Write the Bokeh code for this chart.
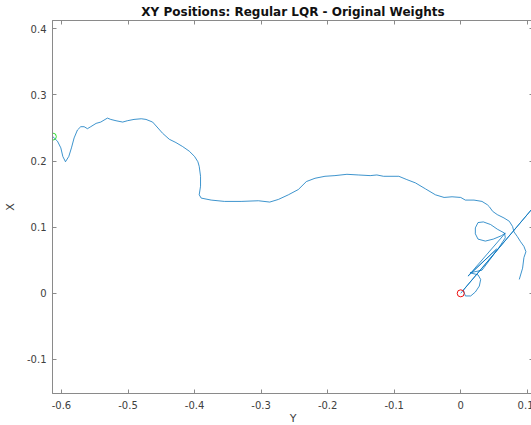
from bokeh.plotting import figure
from bokeh.models import FixedTicker, LinearAxis, Range1d, CustomLabelingPolicy
from bokeh.embed import file_html
from bokeh.resources import INLINE

title_text = "XY Positions: Regular LQR - Original Weights"
x_axis_label = "Y"
y_axis_label = "X"

xticks = [-0.6, -0.5, -0.4, -0.3, -0.2, -0.1, 0.0, 0.1]
xtick_labels = ["-0.6", "-0.5", "-0.4", "-0.3", "-0.2", "-0.1", "0", "0.1"]
yticks = [-0.1, 0.0, 0.1, 0.2, 0.3, 0.4]
ytick_labels = ["-0.1", "0", "0.1", "0.2", "0.3", "0.4"]

# main trajectory (horizontal = Y position, vertical = X position)
path_y = [-0.613, -0.606, -0.601, -0.598, -0.594, -0.589, -0.585, -0.581, -0.576, -0.571,
          -0.566, -0.561, -0.556, -0.548, -0.541, -0.531, -0.526, -0.518, -0.508, -0.501,
          -0.491, -0.480, -0.473, -0.463, -0.455, -0.448, -0.438, -0.428, -0.418, -0.408,
          -0.400, -0.395, -0.393, -0.391, -0.391, -0.393, -0.390, -0.375, -0.355, -0.330,
          -0.304, -0.287, -0.274, -0.259, -0.244, -0.232, -0.219, -0.204, -0.189, -0.171,
          -0.154, -0.136, -0.126, -0.116, -0.093, -0.081, -0.068, -0.053, -0.038, -0.025,
          -0.013, 0.000, 0.007, 0.020, 0.032, 0.040, 0.043, 0.048, 0.055, 0.065,
          0.073, 0.078, 0.080, 0.085, 0.090, 0.095, 0.098, 0.095, 0.093, 0.088]
path_x = [0.237, 0.230, 0.220, 0.207, 0.199, 0.207, 0.220, 0.235, 0.247, 0.252,
          0.252, 0.249, 0.252, 0.257, 0.259, 0.265, 0.263, 0.261, 0.259, 0.261,
          0.263, 0.264, 0.263, 0.259, 0.250, 0.242, 0.233, 0.228, 0.222, 0.215,
          0.207, 0.199, 0.192, 0.177, 0.162, 0.149, 0.144, 0.141, 0.139, 0.139,
          0.140, 0.138, 0.142, 0.149, 0.157, 0.169, 0.174, 0.177, 0.178, 0.180,
          0.179, 0.178, 0.179, 0.177, 0.177, 0.172, 0.167, 0.158, 0.149, 0.145,
          0.146, 0.145, 0.141, 0.141, 0.139, 0.134, 0.131, 0.124, 0.119, 0.114,
          0.109, 0.101, 0.093, 0.086, 0.078, 0.071, 0.063, 0.054, 0.038, 0.021]

# noisy segment near the origin
cluster_y = [0.000, 0.200, 0.004, 0.007, 0.015, 0.022, 0.028, 0.030, 0.026, 0.014,
             0.032, 0.058, 0.067, 0.066, 0.055, 0.045, 0.034, 0.026, 0.022, 0.022,
             0.026, 0.037, 0.049, 0.061, 0.067, 0.011, 0.054, 0.017]
cluster_x = [0.000, 0.238, 0.005, -0.004, -0.004, 0.002, 0.011, 0.021, 0.028, 0.031,
             0.035, 0.070, 0.084, 0.091, 0.097, 0.104, 0.108, 0.107, 0.099, 0.090,
             0.082, 0.079, 0.082, 0.087, 0.091, 0.026, 0.067, 0.032]

start_y = [-0.613]
start_x = [0.237]
end_y = [0.0]
end_x = [0.0]

AX = "#8a8a8a"
TXT = "#404040"
FONT = "DejaVu Sans"

p = figure(width=533, height=427, output_backend="svg", toolbar_location=None,
           x_range=Range1d(-0.6135, 0.1094), y_range=Range1d(-0.1515, 0.4126),
           min_border_left=44, min_border_right=0, min_border_top=0, min_border_bottom=0,
           x_axis_label=x_axis_label, y_axis_label=y_axis_label)

p.title.text = title_text
p.title.align = "center"
p.title.text_font = FONT
p.title.text_font_size = "12px"
p.title.text_font_style = "bold"
p.title.text_color = "#111111"
p.title.standoff = 4
p.title.offset = 0

p.xgrid.visible = False
p.ygrid.visible = False
p.outline_line_color = AX
p.background_fill_color = "white"
p.border_fill_color = "white"

for ax, ticks, labels in ((p.xaxis[0], xticks, xtick_labels), (p.yaxis[0], yticks, ytick_labels)):
    ax.ticker = FixedTicker(ticks=ticks)
    ax.major_label_overrides = dict(zip(ticks, labels))
    ax.axis_line_color = AX
    ax.major_tick_line_color = AX
    ax.major_tick_in = 4
    ax.major_tick_out = 0
    ax.minor_tick_in = 0
    ax.minor_tick_out = 0
    ax.major_label_text_font = FONT
    ax.major_label_text_font_size = "10px"
    ax.major_label_text_color = TXT
    ax.axis_label_text_font = FONT
    ax.axis_label_text_font_size = "11px"
    ax.axis_label_text_font_style = "normal"
    ax.axis_label_text_color = TXT

p.xaxis[0].major_label_standoff = 7
p.xaxis[0].axis_label_standoff = 0
p.yaxis[0].major_label_standoff = 6
p.yaxis[0].axis_label_standoff = 7

top_axis = LinearAxis(ticker=FixedTicker(ticks=xticks),
                      major_label_policy=CustomLabelingPolicy(code="return []"))
right_axis = LinearAxis(ticker=FixedTicker(ticks=yticks),
                        major_label_policy=CustomLabelingPolicy(code="return []"))
for a, loc in ((top_axis, "above"), (right_axis, "right")):
    a.major_label_text_font_size = "0px"
    a.major_label_standoff = 0
    a.axis_line_color = AX
    a.major_tick_line_color = AX
    a.major_tick_in = 4
    a.major_tick_out = 0
    a.minor_tick_in = 0
    a.minor_tick_out = 0
    p.add_layout(a, loc)

line_color = "#0072BD"
p.line(path_y, path_x, line_color=line_color, line_width=0.9, line_alpha=0.85)
p.line(cluster_y, cluster_x, line_color=line_color, line_width=0.9, line_alpha=0.85)

p.scatter(start_y, start_x, marker="circle", size=7, fill_color=None,
          line_color="#33dd33", line_width=1)
p.scatter(end_y, end_x, marker="circle", size=7, fill_color=None,
          line_color="#ee1111", line_width=1)

open("out.html", "w").write(file_html(p, INLINE))
